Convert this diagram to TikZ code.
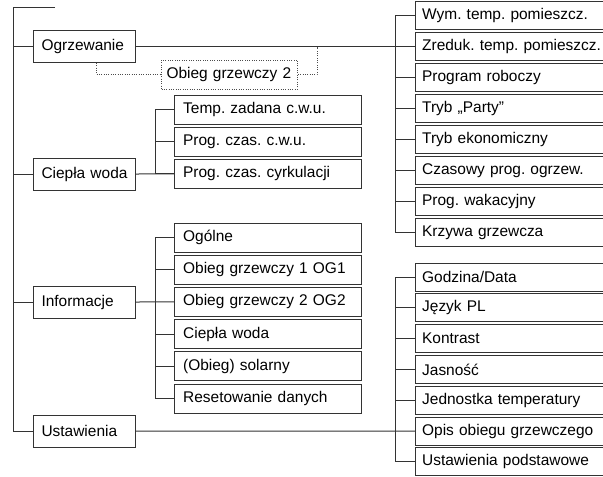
\documentclass[tikz,border=0pt]{standalone}
\usepackage{fontspec}
\setmainfont{Liberation Sans}
\usetikzlibrary{positioning}
\frenchspacing

\begin{document}
\begin{tikzpicture}[x=0.75pt,y=-0.75pt,line width=0.75pt,
    main box/.style={draw=black!80,anchor=west,align=left,inner xsep=6pt,text width=64.5pt,minimum height=24pt,font=\fontsize{11.6}{13.5}\selectfont},
    sub box/.style={draw=black!80,anchor=west,align=left,inner xsep=6.5pt,text width=127.25pt,minimum height=21.75pt,font=\fontsize{11.6}{13.5}\selectfont},
    menu box/.style={draw=black!80,anchor=west,align=left,inner xsep=5pt,text width=150pt,minimum height=21pt,font=\fontsize{11.6}{13.5}\selectfont},
    dot box/.style={draw=black!70,densely dotted,anchor=west,align=left,inner xsep=3.75pt,text width=94.5pt,minimum height=21.75pt,font=\fontsize{11.6}{13.5}\selectfont},
    link/.style={color=black!80},
    dot link/.style={color=black!70,densely dotted}]
    \useasboundingbox (0,0) rectangle (603,476);

    % main menu
    \coordinate (top) at (13,7);
    \coordinate (topend) at (55,7);
    \node[main box] (og) at (33,46.5) {Ogrzewanie};
    \node[main box] (cw) at (33,174) {Ciepła woda};
    \node[main box] (inf) at (33,302) {Informacje};
    \node[main box] (ust) at (33,431) {Ustawienia};
    \node[dot box] (og2) at (161,74.5) {Obieg grzewczy 2};

    % bus lines
    \coordinate (cbus) at (155,0);
    \coordinate (wbus) at (395,0);
    \coordinate (ogj) at (317,46.5);

    % heating
    \node[menu box] (w1) at (415,15.5) {Wym. temp. pomieszcz.};
    \node[menu box] (w2) [below=1.5pt of w1] {Zreduk. temp. pomieszcz.};
    \node[menu box] (w3) [below=1.5pt of w2] {Program roboczy};
    \node[menu box] (w4) [below=1.5pt of w3] {Tryb „Party”};
    \node[menu box] (w5) [below=1.5pt of w4] {Tryb ekonomiczny};
    \node[menu box] (w6) [below=1.5pt of w5] {Czasowy prog. ogrzew.};
    \node[menu box] (w7) [below=1.5pt of w6] {Prog. wakacyjny};
    \node[menu box] (w8) [below=1.5pt of w7] {Krzywa grzewcza};

    % hot water
    \node[sub box] (c1) at (174,109.5) {Temp. zadana c.w.u.};
    \node[sub box] (c2) [below=1.65pt of c1] {Prog. czas. c.w.u.};
    \node[sub box] (c3) [below=1.65pt of c2] {Prog. czas. cyrkulacji};

    % info
    \node[sub box] (i1) at (174,237.5) {Ogólne};
    \node[sub box] (i2) [below=1.65pt of i1] {Obieg grzewczy 1 OG1};
    \node[sub box] (i3) [below=1.65pt of i2] {Obieg grzewczy 2 OG2};
    \node[sub box] (i4) [below=1.65pt of i3] {Ciepła woda};
    \node[sub box] (i5) [below=1.65pt of i4] {(Obieg) solarny};
    \node[sub box] (i6) [below=1.65pt of i5] {Resetowanie danych};

    % settings
    \node[menu box] (s1) at (415,277) {Godzina/Data};
    \node[menu box] (s2) [below=1.35pt of s1] {Język PL};
    \node[menu box] (s3) [below=1.35pt of s2] {Kontrast};
    \node[menu box] (s4) [below=1.35pt of s3] {Jasność};
    \node[menu box] (s5) [below=1.35pt of s4] {Jednostka temperatury};
    \node[menu box] (s6) [below=1.35pt of s5] {Opis obiegu grzewczego};
    \node[menu box] (s7) [below=1.35pt of s6] {Ustawienia podstawowe};

    \draw[link] (topend) -- (top) |- (ust.west);
    \draw[link] (w1.west) -- (w1.west -| wbus) |- (w8.west);
    \draw[link] (c1.west) -- (c1.west -| cbus) |- (c3.west);
    \draw[link] (i1.west) -- (i1.west -| cbus) |- (i6.west);
    \draw[link] (s1.west) -- (s1.west -| wbus) |- (s7.west);

    \path[link]
        (og.west) edge (og.west -| top)
        (cw.west) edge (cw.west -| top)
        (inf.west) edge (inf.west -| top)
        (og.east) edge (w2.west)
        (cw.east) edge (c3.west)
        (inf.east) edge (i3.west)
        (ust.east) edge (s6.west)
        (w3.west) edge (w3.west -| wbus)
        (w4.west) edge (w4.west -| wbus)
        (w5.west) edge (w5.west -| wbus)
        (w6.west) edge (w6.west -| wbus)
        (w7.west) edge (w7.west -| wbus)
        (c2.west) edge (c2.west -| cbus)
        (i2.west) edge (i2.west -| cbus)
        (i4.west) edge (i4.west -| cbus)
        (i5.west) edge (i5.west -| cbus)
        (s2.west) edge (s2.west -| wbus)
        (s3.west) edge (s3.west -| wbus)
        (s4.west) edge (s4.west -| wbus)
        (s5.west) edge (s5.west -| wbus)
    ;

    \path[dot link]
        ([xshift=9pt]og.south) edge[to path={|- (\tikztotarget)}] (og2.west)
        (og2.east) edge[to path={-| (\tikztotarget)}] (ogj)
    ;
\end{tikzpicture}
\end{document}
